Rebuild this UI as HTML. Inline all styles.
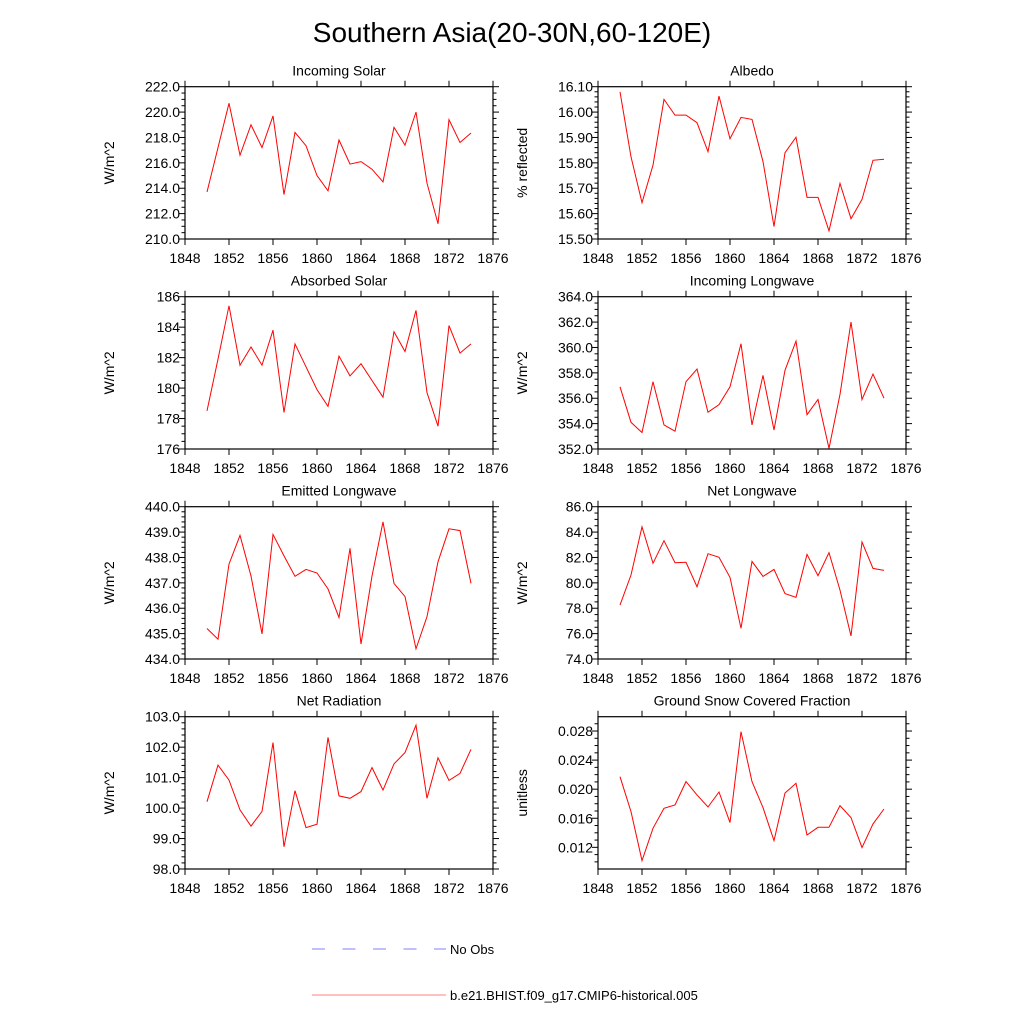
<!DOCTYPE html>
<html><head><meta charset="utf-8"><style>
body{margin:0;background:#fff}
svg{display:block;font-family:"Liberation Sans",sans-serif}
</style></head><body>
<svg id="c" width="1024" height="1024" viewBox="0 0 1024 1024">
<text x="512" y="42" font-size="28" text-anchor="middle">Southern Asia(20-30N,60-120E)</text>
<g>
<line x1="312" y1="949" x2="446" y2="949" stroke="#8080ff" stroke-width="1" stroke-dasharray="13,17.5"/>
<text x="450" y="954" font-size="13">No Obs</text>
<line x1="312" y1="995" x2="446" y2="995" stroke="#ff8080" stroke-width="1"/>
<text x="450" y="1000" font-size="13">b.e21.BHIST.f09_g17.CMIP6-historical.005</text>
</g>
</svg>
<script>
const years=[1850,1851,1852,1853,1854,1855,1856,1857,1858,1859,1860,1861,1862,1863,1864,1865,1866,1867,1868,1869,1870,1871,1872,1873,1874];
const xTicks=[1848,1852,1856,1860,1864,1868,1872,1876];
const incomingSolar=[213.7,217.2,220.7,216.6,219.0,217.2,219.7,213.5,218.4,217.35,215.0,213.8,217.8,215.9,216.1,215.5,214.5,218.8,217.4,220.0,214.4,211.2,219.4,217.6,218.35];
const albedo=[16.080,15.824,15.643,15.791,16.050,15.988,15.988,15.958,15.844,16.063,15.895,15.979,15.971,15.805,15.549,15.840,15.901,15.664,15.664,15.532,15.719,15.580,15.656,15.810,15.814];
const absorbedSolar=[178.5,181.9,185.4,181.5,182.7,181.5,183.8,178.4,182.9,181.4,179.9,178.8,182.1,180.8,181.6,180.5,179.4,183.7,182.4,185.1,179.7,177.5,184.1,182.3,182.9];
const incomingLW=[356.9,354.1,353.3,357.3,353.9,353.4,357.3,358.3,354.9,355.5,356.9,360.3,353.9,357.8,353.5,358.2,360.5,354.7,355.9,352.05,356.3,362.0,355.9,357.9,356.0];
const emittedLW=[435.20,434.78,437.74,438.87,437.27,434.99,438.91,438.06,437.26,437.53,437.39,436.76,435.63,438.36,434.59,437.27,439.40,436.98,436.46,434.40,435.67,437.83,439.13,439.06,436.98];
const netLW=[78.25,80.62,84.42,81.54,83.32,81.59,81.62,79.70,82.30,82.01,80.43,76.42,81.69,80.51,81.06,79.15,78.86,82.24,80.56,82.38,79.43,75.81,83.22,81.14,80.98];
const netRad=[100.21,101.41,100.92,99.94,99.41,99.89,102.15,98.73,100.57,99.36,99.47,102.32,100.40,100.32,100.54,101.33,100.59,101.45,101.82,102.72,100.32,101.65,100.91,101.14,101.93];
const snow=[0.02172,0.01691,0.01018,0.01462,0.01737,0.01783,0.02104,0.01921,0.01755,0.01961,0.01540,0.02791,0.02104,0.01746,0.01293,0.01948,0.02081,0.01370,0.01476,0.01476,0.01774,0.01609,0.01196,0.01522,0.01728];

const panels=[
 {name:'incoming-solar',title:'Incoming Solar',unit:'W/m^2',data:incomingSolar,min:210,max:222,major:2,minor:0.5,dec:1,col:0,row:0},
 {name:'albedo',title:'Albedo',unit:'% reflected',data:albedo,min:15.5,max:16.1,major:0.1,minor:0.02,dec:2,col:1,row:0},
 {name:'absorbed-solar',title:'Absorbed Solar',unit:'W/m^2',data:absorbedSolar,min:176,max:186,major:2,minor:0.5,dec:0,col:0,row:1},
 {name:'incoming-longwave',title:'Incoming Longwave',unit:'W/m^2',data:incomingLW,min:352,max:364,major:2,minor:0.5,dec:1,col:1,row:1},
 {name:'emitted-longwave',title:'Emitted Longwave',unit:'W/m^2',data:emittedLW,min:434,max:440,major:1,minor:0.2,dec:1,col:0,row:2},
 {name:'net-longwave',title:'Net Longwave',unit:'W/m^2',data:netLW,min:74,max:86,major:2,minor:0.5,dec:1,col:1,row:2},
 {name:'net-radiation',title:'Net Radiation',unit:'W/m^2',data:netRad,min:98,max:103,major:1,minor:0.2,dec:1,col:0,row:3},
 {name:'ground-snow',title:'Ground Snow Covered Fraction',unit:'unitless',data:snow,min:0.00902,max:0.02997,major:0.004,minor:0.001,dec:3,col:1,row:3}
];
const NS='http://www.w3.org/2000/svg';
const svg=document.getElementById('c');
function mk(tag,attrs,parent){const e=document.createElementNS(NS,tag);for(const k in attrs)e.setAttribute(k,attrs[k]);parent.appendChild(e);return e;}
const colX=[185,598],rowY=[86.7,296.7,506.7,716.7],W=308,H=152.3;
panels.forEach(p=>{
 const x0=colX[p.col],y0=rowY[p.row];
 const g=mk('g',{},svg);
 
 
 const xs=v=>x0+(v-1848)/28*W;
 const ys=v=>y0+H-(v-p.min)/(p.max-p.min)*H;
 const fr=mk('rect',{x:x0,y:y0,width:W,height:H,fill:'none',stroke:'#000','stroke-width':1.2},g);
 
 
 const t=mk('text',{x:x0+W/2,y:y0-11,'font-size':14,'text-anchor':'middle'},g);
 t.textContent=p.title;
 
 
 const yl=mk('text',{x:0,y:0,'font-size':14,'text-anchor':'middle',transform:`translate(${x0-71},${y0+H/2}) rotate(-90)`},g);
 yl.textContent=p.unit;
 
 
 xTicks.forEach(v=>{
  const x=xs(v);
  mk('line',{x1:x,x2:x,y1:y0+H,y2:y0+H+6,stroke:'#000','stroke-width':1},g);
  mk('line',{x1:x,x2:x,y1:y0,y2:y0-6,stroke:'#000','stroke-width':1},g);
  const l=mk('text',{x:x,y:y0+H+24,'font-size':14,'text-anchor':'middle'},g);
  l.textContent=v;
  
  
 });
 const eps=1e-9;
 const n0=Math.ceil((p.min-eps)/p.minor);
 for(let k=n0;k*p.minor<=p.max+eps;k++){
  const v=k*p.minor;const y=ys(v);
  const isMaj=Math.abs(v/p.major-Math.round(v/p.major))<1e-6;
  const len=isMaj?6:3.5;
  mk('line',{x1:x0,x2:x0-len,y1:y,y2:y,stroke:'#000','stroke-width':1},g);
  mk('line',{x1:x0+W,x2:x0+W+len,y1:y,y2:y,stroke:'#000','stroke-width':1},g);
  if(isMaj){
   const l=mk('text',{x:x0-5,y:y+5,'font-size':14,'text-anchor':'end'},g);
   l.textContent=p.dec===0?Math.round(v):v.toFixed(p.dec);
   
   
  }
 }
 const pts=p.data.map((v,i)=>xs(years[i]).toFixed(1)+','+ys(v).toFixed(1)).join(' ');
 const pl=mk('polyline',{points:pts,fill:'none',stroke:'#ff0000','stroke-width':1},g);
 
 
});
</script>
</body></html>
